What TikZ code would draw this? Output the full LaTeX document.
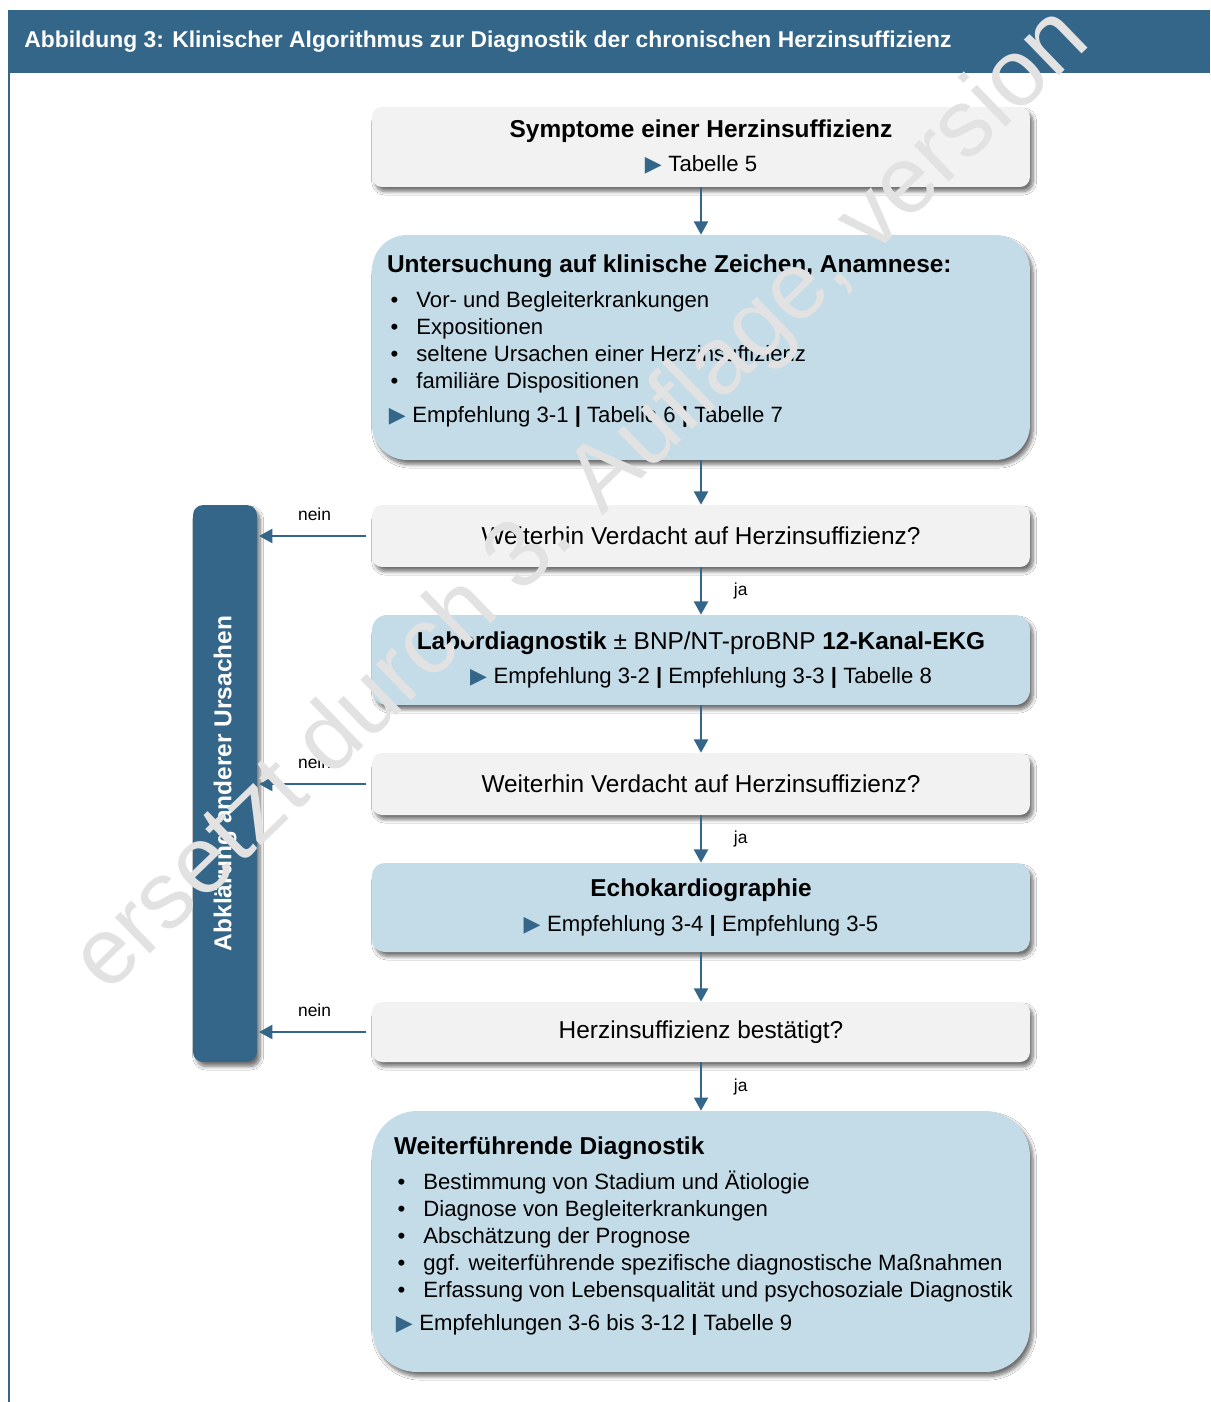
\documentclass[tikz,border=0pt]{standalone}
\usepackage{fontspec}
\setmainfont{Liberation Sans}
\newfontfamily\symfont{DejaVu Sans}
\usetikzlibrary{arrows.meta,positioning,shadows,shadows.blur}

\definecolor{hdblue}{RGB}{51,102,136}
\definecolor{boxblue}{RGB}{196,220,232}
\definecolor{boxgray}{RGB}{242,242,242}

\newcommand{\ptr}{{\symfont\color{hdblue}\fontsize{12.5}{10}\selectfont ▶}\hspace{0.3em}}
\newcommand{\itm}{\hspace*{2pt}\makebox[14.7pt][l]{\textbullet}}

\begin{document}
\begin{tikzpicture}[
		x=0.02cm, y=-0.02cm,
		>={Triangle[length=7.5pt,width=8pt]},
		flow/.style={->, hdblue, line width=1.1pt},
		shade/.style={blur shadow={shadow xshift=1.8pt, shadow yshift=-2.6pt, shadow blur steps=8, shadow blur radius=2pt, shadow opacity=55}},
		graybox/.style={
			shade,
			fill=boxgray,
			rounded corners=0.2cm,
			minimum width=13.16cm,
			align=center,
			font=\fontsize{13.9}{19.8}\selectfont
		},
		bluebox/.style={graybox, fill=boxblue},
		listtext/.style={
			anchor=north west,
			inner sep=0pt,
			align=left,
			font=\fontsize{12.6}{15.3}\selectfont
		},
		lab/.style={
			inner sep=0pt,
			text=black,
			font=\fontsize{9.9}{11}\selectfont
		}
		]
		
		% Frame
		\useasboundingbox (0,0) rectangle (1210,1402);
		\fill[white] (0,0) rectangle (1210,1402);
		\fill[hdblue] (8,10) rectangle (1210,73);
		\draw[hdblue, line width=1.4pt] (9,73) -- (9,1402);
		\node[anchor=west, inner sep=0pt, text=white, font=\bfseries\fontsize{13}{14}\selectfont] (title) at (24,42)
		{Abbildung 3: Klinischer Algorithmus zur Diagnostik der chronischen Herzinsuffizienz};
		
		% Boxes
		\node[graybox, minimum height=1.6cm] (sympt) at (701,147)
		{\textbf{Symptome einer Herzinsuffizienz}\\{\fontsize{12.6}{19.8}\selectfont\ptr Tabelle 5}};
		
		\node[bluebox, rounded corners=0.7cm, minimum height=4.5cm] (exam) at (701,347.5) {};
		\node[listtext] (exam-txt) at ([shift={(15,20)}]exam.north west)
		{{\bfseries\fontsize{13.9}{15.3}\selectfont Untersuchung auf klinische Zeichen, Anamnese:}\\[4.5pt]
			\itm Vor- und Begleiterkrankungen\\
			\itm Expositionen\\
			\itm seltene Ursachen einer Herzinsuffizienz\\
			\itm familiäre Dispositionen\\[4pt]
			\hspace*{1pt}\ptr Empfehlung 3-1 \textbf{|} Tabelle 6 \textbf{|} Tabelle 7};
		
		\node[graybox, minimum height=1.24cm] (susp1) at (701,536) {Weiterhin Verdacht auf Herzinsuffizienz?};
		
		\node[bluebox, rounded corners=0.3cm, minimum height=1.8cm] (lab) at (701,660)
		{\textbf{Labordiagnostik} ± BNP/NT-proBNP \textbf{12-Kanal-EKG}\\
			{\fontsize{12.6}{19.8}\selectfont\ptr Empfehlung 3-2 \textbf{|} Empfehlung 3-3 \textbf{|} Tabelle 8}};
		
		\node[graybox, minimum height=1.24cm] (susp2) at (701,784) {Weiterhin Verdacht auf Herzinsuffizienz?};
		
		\node[bluebox, rounded corners=0.25cm, minimum height=1.78cm] (echo) at (701,907.5)
		{\textbf{Echokardiographie}\\
			{\fontsize{12.6}{19.8}\selectfont\ptr Empfehlung 3-4 \textbf{|} Empfehlung 3-5}};
		
		\node[graybox, minimum height=1.2cm] (conf) at (701,1032) {Herzinsuffizienz bestätigt?};
		
		\node[bluebox, rounded corners=0.9cm, minimum height=5.22cm] (further) at (701,1241.5) {};
		\node[listtext] (further-txt) at ([shift={(22,26)}]further.north west)
		{{\bfseries\fontsize{13.9}{15.3}\selectfont Weiterführende Diagnostik}\\[4.5pt]
			\itm Bestimmung von Stadium und Ätiologie\\
			\itm Diagnose von Begleiterkrankungen\\
			\itm Abschätzung der Prognose\\
			\itm ggf. weiterführende spezifische diagnostische Maßnahmen\\
			\itm Erfassung von Lebensqualität und psychosoziale Diagnostik\\[4pt]
			\hspace*{1pt}\ptr Empfehlungen 3-6 bis 3-12 \textbf{|} Tabelle 9};
		
		% Side bar
		\node[shade, fill=hdblue, rounded corners=0.2cm, minimum width=1.28cm, minimum height=11.14cm] (other) at (225,783.5) {};
		\node[rotate=90, text=white, font=\bfseries\fontsize{13.9}{15}\selectfont] (other-txt) at (other) {Abklärung anderer Ursachen};
		
		% Main path
		\draw[flow] (sympt) -- (exam);
		\draw[flow] (exam) -- (susp1);
		\draw[flow] (susp1) -- node[lab, right=0.64cm] {ja} (lab);
		\draw[flow] (lab) -- (susp2);
		\draw[flow] (susp2) -- node[lab, right=0.64cm] {ja} (echo);
		\draw[flow] (echo) -- (conf);
		\draw[flow] (conf) -- node[lab, right=0.64cm] {ja} (further);
		
		% Exits
		\draw[flow, shorten <=3pt, shorten >=1pt] (susp1.west) -- node[lab, above=0.29cm] {nein} (susp1.west -| other.east);
		\draw[flow, shorten <=3pt, shorten >=1pt] (susp2.west) -- node[lab, above=0.29cm] {nein} (susp2.west -| other.east);
		\draw[flow, shorten <=3pt, shorten >=1pt] (conf.west) -- node[lab, above=0.29cm] {nein} (conf.west -| other.east);
		
		% Stamp
		\node[anchor=base west, rotate=44, inner sep=0pt, text=gray!23, font=\fontsize{54}{54}\selectfont] (stamp) at (107,995)
		{ersetzt durch 3. Auflage, version};
		
	\end{tikzpicture}
\end{document}
